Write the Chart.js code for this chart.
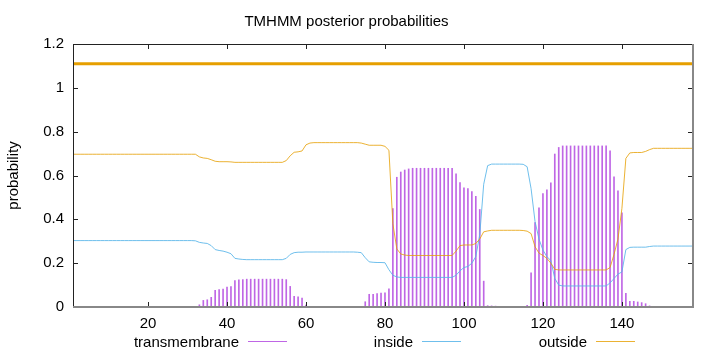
<!DOCTYPE html>
<html lang="en">
<head>
  <meta charset="UTF-8" />
  <title>TMHMM posterior probabilities</title>
  <script src="https://cdn.jsdelivr.net/npm/chart.js"></script>
  <style>
    body {
      margin: 0;
      background: #fff;
      font-family: 'Liberation Sans', Arial, sans-serif;
    }

    #wrap {
      position: relative;
      width: 720px;
      height: 352px;
    }

    .leg-text {
      position: absolute;
      top: 333px;
      font-size: 15px;
      line-height: 17px;
      text-align: right;
      color: #000;
    }

    .leg-line {
      position: absolute;
      top: 341px;
      width: 39px;
      height: 1px;
    }
  </style>
</head>
<body>
  <div id="wrap">
    <canvas id="tmChart" width="720" height="352"></canvas>
  </div>

  <script>
    // posterior probabilities per residue (1..158)
    const transmembrane = [
      0, 0, 0, 0, 0, 0, 0, 0, 0, 0,
      0, 0, 0, 0, 0, 0, 0, 0, 0, 0,
      0, 0, 0, 0, 0, 0, 0, 0, 0, 0,
      0, 0, 0.01, 0.03, 0.033, 0.044, 0.076, 0.08, 0.082, 0.091,
      0.093, 0.12, 0.124, 0.125, 0.127, 0.127, 0.127, 0.127, 0.127, 0.127,
      0.127, 0.127, 0.127, 0.127, 0.125, 0.094, 0.049, 0.046, 0.041, 0.009,
      0.003, 0.002, 0.001, 0, 0, 0, 0, 0, 0, 0,
      0, 0, 0, 0, 0.024, 0.058, 0.058, 0.061, 0.064, 0.065,
      0.083, 0.449, 0.592, 0.616, 0.625, 0.63, 0.633, 0.633, 0.633, 0.633,
      0.633, 0.633, 0.633, 0.633, 0.633, 0.633, 0.633, 0.608, 0.568, 0.544,
      0.54, 0.527, 0.505, 0.445, 0.118, 0.006, 0.005, 0.004, 0.003, 0,
      0, 0, 0, 0, 0, 0.008, 0.156, 0.385, 0.452, 0.518,
      0.535, 0.566, 0.698, 0.728, 0.735, 0.735, 0.735, 0.735, 0.735, 0.735,
      0.735, 0.735, 0.735, 0.735, 0.735, 0.735, 0.712, 0.594, 0.53, 0.43,
      0.062, 0.026, 0.026, 0.023, 0.02, 0.015, 0.005, 0, 0, 0,
      0, 0, 0, 0, 0, 0, 0, 0
    ];

    const inside = [
      0.303, 0.303, 0.303, 0.303, 0.303, 0.303, 0.303, 0.303, 0.303, 0.303,
      0.303, 0.303, 0.303, 0.303, 0.303, 0.303, 0.303, 0.303, 0.303, 0.303,
      0.303, 0.303, 0.303, 0.303, 0.303, 0.303, 0.303, 0.303, 0.303, 0.303,
      0.303, 0.302, 0.295, 0.292, 0.29, 0.28, 0.262, 0.258, 0.255, 0.25,
      0.243, 0.222, 0.219, 0.217, 0.216, 0.216, 0.216, 0.216, 0.216, 0.216,
      0.216, 0.216, 0.216, 0.216, 0.222, 0.24, 0.248, 0.25, 0.25, 0.251,
      0.251, 0.251, 0.251, 0.251, 0.251, 0.251, 0.251, 0.251, 0.251, 0.251,
      0.251, 0.251, 0.25, 0.248, 0.225, 0.206, 0.204, 0.203, 0.203, 0.202,
      0.17, 0.145, 0.137, 0.135, 0.135, 0.135, 0.135, 0.135, 0.135, 0.135,
      0.135, 0.135, 0.135, 0.135, 0.135, 0.135, 0.135, 0.145, 0.165, 0.18,
      0.185, 0.2, 0.23, 0.33, 0.56, 0.645, 0.652, 0.652, 0.652, 0.652,
      0.652, 0.652, 0.652, 0.652, 0.651, 0.64, 0.54, 0.39, 0.31, 0.26,
      0.23, 0.212, 0.13, 0.1, 0.096, 0.096, 0.096, 0.096, 0.096, 0.096,
      0.096, 0.096, 0.096, 0.096, 0.096, 0.096, 0.11, 0.13, 0.15, 0.16,
      0.262, 0.272, 0.273, 0.273, 0.273, 0.273, 0.276, 0.278, 0.278, 0.278,
      0.278, 0.278, 0.278, 0.278, 0.278, 0.278, 0.278, 0.278
    ];

    const outside = [
      0.697, 0.697, 0.697, 0.697, 0.697, 0.697, 0.697, 0.697, 0.697, 0.697,
      0.697, 0.697, 0.697, 0.697, 0.697, 0.697, 0.697, 0.697, 0.697, 0.697,
      0.697, 0.697, 0.697, 0.697, 0.697, 0.697, 0.697, 0.697, 0.697, 0.697,
      0.697, 0.697, 0.685, 0.68, 0.678, 0.672, 0.665, 0.663, 0.663, 0.663,
      0.662, 0.66, 0.66, 0.66, 0.66, 0.66, 0.66, 0.66, 0.66, 0.66,
      0.66, 0.66, 0.66, 0.66, 0.668, 0.69, 0.706, 0.708, 0.712, 0.74,
      0.748, 0.75, 0.75, 0.75, 0.75, 0.75, 0.75, 0.75, 0.75, 0.75,
      0.75, 0.75, 0.75, 0.748, 0.743, 0.738, 0.738, 0.738, 0.738, 0.733,
      0.715, 0.38, 0.265, 0.242, 0.237, 0.235, 0.235, 0.235, 0.235, 0.235,
      0.235, 0.235, 0.235, 0.235, 0.235, 0.235, 0.235, 0.255, 0.28, 0.283,
      0.283, 0.283, 0.29, 0.31, 0.343, 0.347, 0.35, 0.35, 0.35, 0.35,
      0.35, 0.35, 0.35, 0.35, 0.349, 0.346, 0.335, 0.275, 0.246, 0.235,
      0.222, 0.2, 0.172, 0.169, 0.169, 0.169, 0.169, 0.169, 0.169, 0.169,
      0.169, 0.169, 0.169, 0.169, 0.169, 0.169, 0.18, 0.24, 0.31, 0.45,
      0.678, 0.703, 0.705, 0.705, 0.705, 0.71, 0.718, 0.724, 0.724, 0.724,
      0.724, 0.724, 0.724, 0.724, 0.724, 0.724, 0.724, 0.724
    ];

    // predicted topology: one outside segment over the whole sequence
    const topoStart = [1];
    const topoEnd = [158];
    const topoLevel = [1.11];

    const xTicks = [20, 40, 60, 80, 100, 120, 140];
    const yTicks = [0, 0.2, 0.4, 0.6, 0.8, 1, 1.2];

    const legendLabels = ['transmembrane', 'inside', 'outside'];
    const legendColors = ['rgba(148,0,211,0.6)', 'rgba(86,180,233,0.85)', 'rgba(230,159,0,0.8)'];

    const residues = transmembrane.map((_, i) => i + 1);
    const pts = arr => arr.map((v, i) => ({ x: residues[i], y: v }));

    // gnuplot-like frame with inward ticks
    const framePlugin = {
      id: 'frame',
      afterDatasetsDraw(chart) {
        const { ctx, chartArea: a, scales: { x, y } } = chart;
        ctx.save();
        ctx.strokeStyle = '#222';
        ctx.lineWidth = 1;
        ctx.beginPath();
        xTicks.forEach(v => {
          const px = Math.round(x.getPixelForValue(v)) + 0.5;
          ctx.moveTo(px, a.bottom); ctx.lineTo(px, a.bottom - 5);
          ctx.moveTo(px, a.top); ctx.lineTo(px, a.top + 5);
        });
        yTicks.forEach(v => {
          const py = Math.round(y.getPixelForValue(v)) + 0.5;
          ctx.moveTo(a.left, py); ctx.lineTo(a.left + 5, py);
          ctx.moveTo(a.right, py); ctx.lineTo(a.right - 5, py);
        });
        ctx.stroke();
        ctx.strokeRect(Math.round(a.left) + 0.5, Math.round(a.top) + 0.5,
          Math.round(a.width) - 1, Math.round(a.height) - 1);
        ctx.strokeStyle = '#888';
        ctx.lineWidth = 2;
        ctx.beginPath();
        ctx.moveTo(a.left, Math.round(a.bottom));
        ctx.lineTo(Math.round(a.right), Math.round(a.bottom));
        ctx.lineTo(Math.round(a.right), a.top);
        ctx.stroke();
        ctx.restore();
      }
    };

    new Chart(document.getElementById('tmChart'), {
      type: 'bar',
      data: {
        datasets: [
          {
            type: 'line',
            label: 'topology',
            data: topoStart.flatMap((s, i) => [{ x: s, y: topoLevel[i] }, { x: topoEnd[i], y: topoLevel[i] }]),
            borderColor: '#e69f00',
            borderWidth: 3,
            pointRadius: 0,
            order: 0
          },
          {
            type: 'line',
            label: legendLabels[2],
            data: pts(outside),
            borderColor: legendColors[2],
            borderWidth: 1,
            pointRadius: 0,
            tension: 0,
            order: 1
          },
          {
            type: 'line',
            label: legendLabels[1],
            data: pts(inside),
            borderColor: legendColors[1],
            borderWidth: 1,
            pointRadius: 0,
            tension: 0,
            order: 2
          },
          {
            type: 'bar',
            label: legendLabels[0],
            data: pts(transmembrane),
            backgroundColor: legendColors[0],
            borderWidth: 0,
            barThickness: 1,
            order: 3
          }
        ]
      },
      options: {
        responsive: false,
        animation: false,
        events: [],
        layout: { padding: { left: 0, right: 27, top: 0, bottom: 0 } },
        plugins: {
          legend: { display: false },
          tooltip: { enabled: false },
          title: {
            display: true,
            text: 'TMHMM posterior probabilities',
            color: '#000',
            font: { family: 'Liberation Sans', size: 15, weight: 'normal', lineHeight: 1.2 },
            padding: { top: 13, bottom: 13 }
          }
        },
        scales: {
          x: {
            type: 'linear',
            min: 1,
            max: 158,
            offset: false,
            grid: { display: false, drawTicks: false },
            border: { display: false },
            afterBuildTicks: s => { s.ticks = xTicks.map(v => ({ value: v })); },
            afterFit: s => { s.height = 45; },
            ticks: {
              color: '#000',
              padding: 8,
              maxRotation: 0,
              font: { family: 'Liberation Sans', size: 15 },
              callback: v => String(v)
            }
          },
          y: {
            min: 0,
            max: 1.2,
            grid: { display: false, drawTicks: false },
            border: { display: false },
            afterBuildTicks: s => { s.ticks = yTicks.map(v => ({ value: v })); },
            afterFit: s => { s.width = 73; },
            ticks: {
              color: '#000',
              padding: 9,
              font: { family: 'Liberation Sans', size: 15 },
              callback: v => String(+v.toFixed(1))
            },
            title: {
              display: true,
              text: 'probability',
              color: '#000',
              font: { family: 'Liberation Sans', size: 15 },
              padding: { top: 5, bottom: 0 }
            }
          }
        }
      },
      plugins: [framePlugin]
    });

    // legend below the plot, gnuplot style: text then sample line
    const legendX = [248, 422, 596];
    const wrap = document.getElementById('wrap');
    legendLabels.forEach((label, i) => {
      const t = document.createElement('div');
      t.className = 'leg-text';
      t.style.left = '0px';
      t.style.width = (legendX[i] - 9) + 'px';
      t.textContent = label;
      wrap.appendChild(t);
      const l = document.createElement('div');
      l.className = 'leg-line';
      l.style.left = legendX[i] + 'px';
      l.style.background = legendColors[i];
      wrap.appendChild(l);
    });
  </script>
</body>
</html>
